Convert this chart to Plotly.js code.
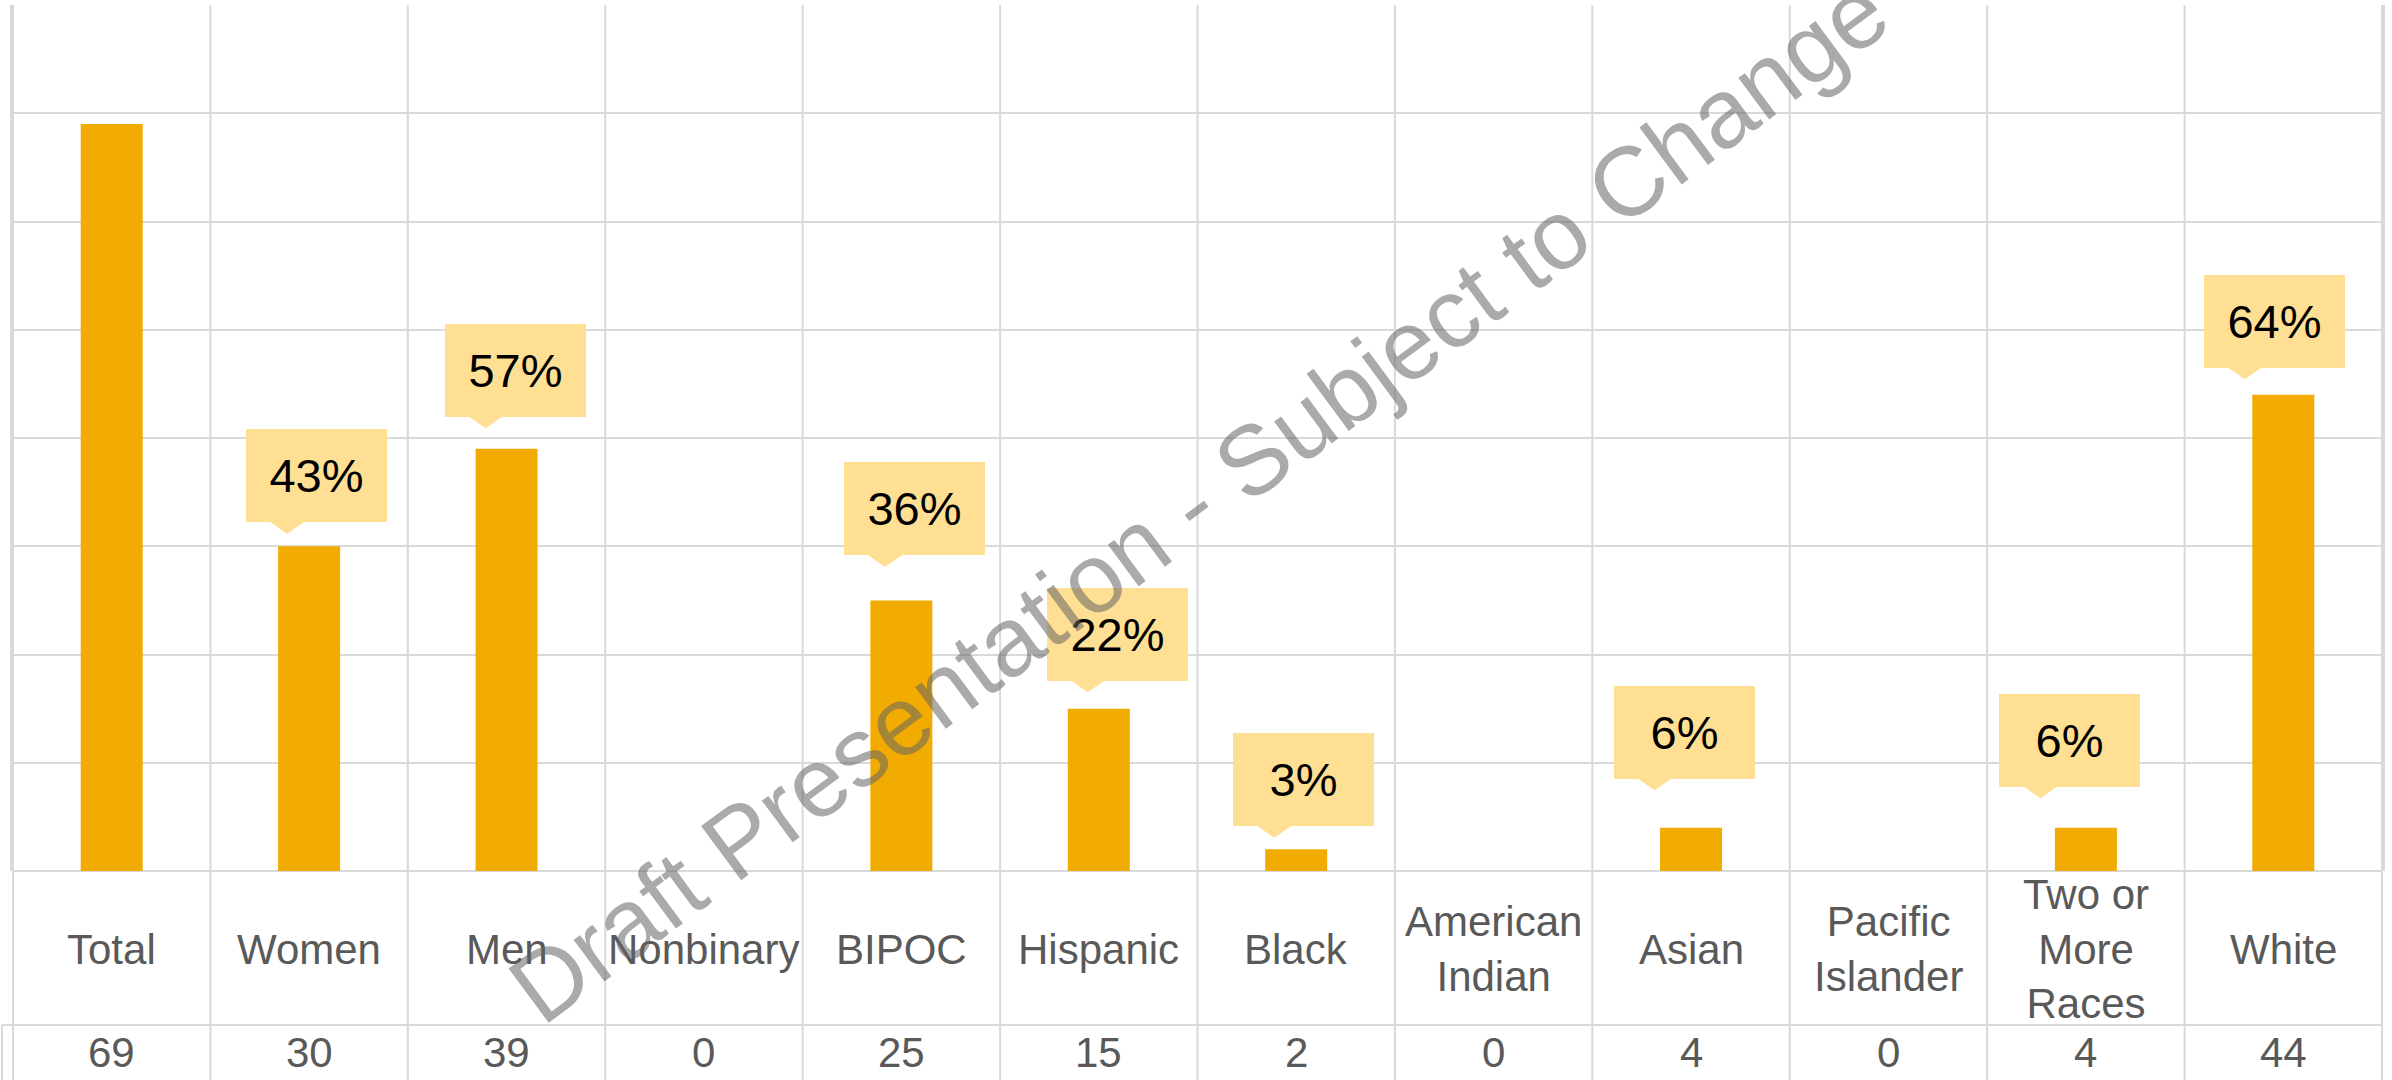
<!DOCTYPE html>
<html>
<head>
<meta charset="utf-8">
<script src="https://cdn.plot.ly/plotly-3.0.1.min.js"></script>
<style>html,body{margin:0;padding:0;background:#fff;}#chart{width:2392px;height:1080px;}</style>
</head>
<body>
<div id="chart"></div>
<script>
// ---- data ----
const categories = ['Total','Women','Men','Nonbinary','BIPOC','Hispanic','Black','American Indian','Asian','Pacific Islander','Two or More Races','White'];
const tickLabels = ['Total','Women','Men','Nonbinary','BIPOC','Hispanic','Black','American<br>Indian','Asian','Pacific<br>Islander','Two or<br>More<br>Races','White'];
const counts = [69, 30, 39, 0, 25, 15, 2, 0, 4, 0, 4, 44];
const pctLabels = ['', '43%', '57%', '', '36%', '22%', '3%', '', '6%', '', '6%', '64%'];
const watermark = 'Draft Presentation - Subject to Change';

// ---- styling (pixel offsets of the callouts, as placed in the reference) ----
const calloutDx  = [0, 7.5, 8.5, 0, 13, 18.5, 7.5, 0, -7, 0, -16, -9];
const calloutGap = [0, 24, 32, 0, 45, 28, 23, 0, 49, 0, 41, 27];

const W = 2392, H = 1080;
const M = {l: 12, r: 9, t: 5, b: 209};
const plotH = H - M.t - M.b;
const plotW = W - M.l - M.r;
const font = 'Liberation Sans, Arial, sans-serif';
const gridColor = '#D9D9D9';
const barColor = '#F2AB00';
const boxColor = '#FEDF93';
const labelColor = '#595959';

const toPaperY = px => -(px - (H - M.b)) / plotH;   // pixel below the plot -> paper y
const labelRowY = toPaperY(949);
const countRowY = toPaperY(1052);
const tableLineY = toPaperY(1025);
const bottomY = toPaperY(H + 2);

const shapes = [];
// vertical column separators through the chart and table
for (let i = 0; i <= categories.length; i++) {
  shapes.push({type:'line', layer:'below', xref:'x', yref:'paper', x0:i-0.5, x1:i-0.5, y0:1, y1:bottomY,
               line:{color:gridColor, width:2}});
}
// line between label row and count row
shapes.push({type:'line', layer:'below', xref:'paper', yref:'paper', x0:-10/plotW, x1:1, y0:tableLineY, y1:tableLineY,
             line:{color:gridColor, width:2}});
shapes.push({type:'line', layer:'below', xref:'paper', yref:'paper', x0:-10/plotW, x1:-10/plotW, y0:tableLineY, y1:bottomY,
             line:{color:gridColor, width:2}});

const annotations = [];
categories.forEach((c, i) => {
  annotations.push({x:c, xref:'x', y:labelRowY, yref:'paper', text:tickLabels[i], showarrow:false,
                    xanchor:'center', yanchor:'middle', align:'center',
                    font:{family:font, size:42, color:labelColor}});
  annotations.push({x:c, xref:'x', y:countRowY, yref:'paper', text:String(counts[i]), showarrow:false,
                    xanchor:'center', yanchor:'middle',
                    font:{family:font, size:42, color:labelColor}});
  if (pctLabels[i]) {
    const dx = calloutDx[i], gap = calloutGap[i];
    annotations.push({x:c, xref:'x', y:counts[i], yref:'y', text:pctLabels[i], showarrow:false,
                      xanchor:'center', yanchor:'bottom', xshift:dx, yshift:gap,
                      width:141, height:93, borderpad:0, borderwidth:0, bgcolor:boxColor,
                      align:'center', valign:'middle',
                      font:{family:font, size:47, color:'#000000'}});
    const L = dx - 70.5;
    shapes.push({type:'path', layer:'above', xref:'x', yref:'y', xsizemode:'pixel', ysizemode:'pixel',
                 xanchor:c, yanchor:counts[i],
                 path:`M ${L+23} ${gap+1} L ${L+59} ${gap+1} L ${L+41} ${gap-11.5} Z`,
                 fillcolor:boxColor, line:{width:0}});
  }
});
// watermark
annotations.push({xref:'paper', yref:'paper', x:(1198 - M.l)/plotW, y:(H - M.b - 500)/plotH,
                  text:watermark, showarrow:false, textangle:-36.5, xanchor:'center', yanchor:'middle',
                  font:{family:font, size:98, color:'rgba(100,100,100,0.55)'}});

const trace = {type:'bar', x:categories, y:counts, marker:{color:barColor, line:{width:0}},
               hoverinfo:'skip', showlegend:false};

const layout = {
  width:W, height:H, margin:M, paper_bgcolor:'#fff', plot_bgcolor:'#fff',
  bargap:0.686, showlegend:false,
  xaxis:{type:'category', showticklabels:false, ticks:'', showgrid:false, zeroline:false,
         showline:false, fixedrange:true},
  yaxis:{range:[0,80], dtick:10, showticklabels:false, ticks:'', showgrid:true, gridcolor:gridColor,
         gridwidth:2, zeroline:true, zerolinecolor:gridColor, zerolinewidth:2,
         showline:true, mirror:true, linecolor:gridColor, linewidth:2, fixedrange:true},
  shapes:shapes, annotations:annotations
};

Plotly.newPlot('chart', [trace], layout, {staticPlot:true, displayModeBar:false});
</script>
</body>
</html>
